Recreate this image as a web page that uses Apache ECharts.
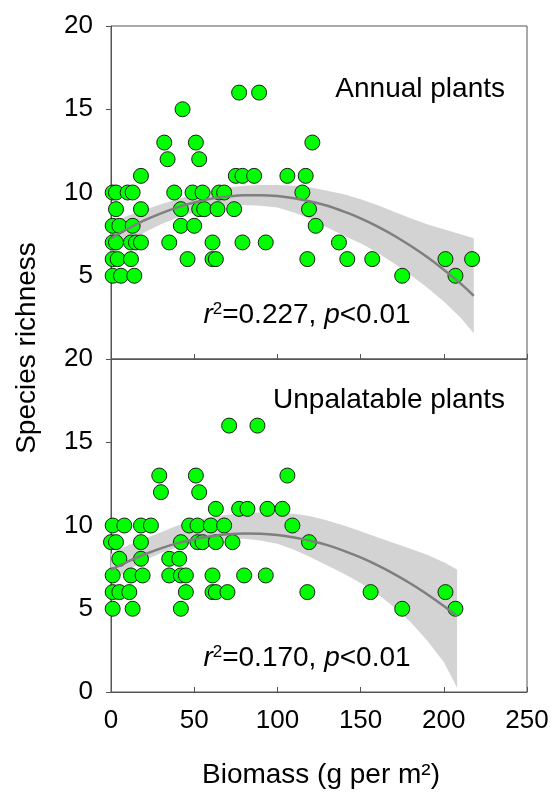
<!DOCTYPE html>
<html>
<head>
<meta charset="utf-8">
<script src="https://cdn.jsdelivr.net/npm/echarts@6/dist/echarts.min.js"></script>
<style>
html,body{margin:0;padding:0;background:#fff;}
#main{width:552px;height:794px;}
</style>
</head>
<body>
<div id="main"></div>
<script>
// annual plants (top panel)
var annualBiomass  = [77,89, 43, 32,51,121, 34,53, 18,75,79,86,106,117,
  1,3,10,13,38,49,55,65,68,115, 3,18,42,53,56,64,74,119, 1,5,13,42,50,123,
  1,3,12,15,18,35,61,79,93,137, 1,4,12,46,61,63,118,142,157,201,217, 1,6,14,175,207];
var annualRichness = [16,16, 15, 13,13,13, 12,12, 11,11,11,11,11,11,
  10,10,10,10,10,10,10,10,10,10, 9,9,9,9,9,9,9,9, 8,8,8,8,8,8,
  7,7,7,7,7,7,7,7,7,7, 6,6,6,6,6,6,6,6,6,6,6, 5,5,5,5,5];

// unpalatable plants (bottom panel)
var unpalBiomass  = [71,88, 29,51,106, 30,53, 63,77,82,94,103,
  1,8,18,24,47,52,60,68,109, 0,3,18,42,52,55,63,73,119, 5,18,35,41,
  1,12,19,35,42,45,61,80,93, 1,5,11,45,61,63,70,118,156,201, 1,13,42,175,207];
var unpalRichness = [16,16, 13,13,13, 12,12, 11,11,11,11,11,
  10,10,10,10,10,10,10,10,10, 9,9,9,9,9,9,9,9,9, 8,8,8,8,
  7,7,7,7,7,7,7,7,7, 6,6,6,6,6,6,6,6,6,6, 5,5,5,5,5];

// fitted curves and confidence bands
var annualFitX  = [0,10,20,30,40,50,60,70,80,90,100,110,120,130,140,150,160,170,180,190,200,210,218];
var annualFit   = [7.25,7.82,8.32,8.75,9.11,9.40,9.62,9.76,9.84,9.84,9.79,9.66,9.46,9.20,8.85,8.45,7.97,7.42,6.80,6.12,5.36,4.54,3.80];
var annualUpper = [8.2,8.6,8.95,9.3,9.6,9.9,10.1,10.3,10.4,10.45,10.45,10.4,10.3,10.1,9.9,9.6,9.25,8.85,8.45,8.1,7.8,7.5,7.25];
var annualLower = [6.3,7.0,7.6,8.1,8.5,8.8,9.05,9.2,9.25,9.2,9.1,8.8,8.4,7.9,7.4,6.95,6.4,5.75,5.05,4.3,3.45,2.5,1.55];

var unpalFitX  = [0,10,20,30,40,50,60,70,80,90,100,110,120,130,140,150,160,170,180,190,200,208];
var unpalFit   = [7.34,7.83,8.26,8.63,8.94,9.18,9.36,9.47,9.52,9.51,9.43,9.28,9.08,8.82,8.48,8.08,7.62,7.10,6.52,5.87,5.16,4.55];
var unpalUpper = [8.3,8.8,9.2,9.6,10.0,10.3,10.5,10.65,10.75,10.78,10.75,10.7,10.55,10.3,10.0,9.65,9.3,8.95,8.6,8.25,7.8,7.35];
var unpalLower = [6.6,7.3,7.9,8.35,8.7,8.95,9.1,9.2,9.2,9.1,8.9,8.55,8.1,7.6,7.1,6.55,5.9,5.1,4.2,3.1,1.8,0.25];

var xTicks = [0,50,100,150,200,250];

function pairs(xs, ys){
  return xs.map(function(x,i){ return [x, ys[i]]; });
}

var font = 'Liberation Sans, Arial, sans-serif';
var frame = '#555';

function xAxisOpt(idx, showLabel){
  return {
    type:'value', gridIndex:idx, min:xTicks[0], max:xTicks[xTicks.length-1], interval:50,
    axisLine:{show:true, onZero:false, lineStyle:{color:frame, width:1}},
    axisTick:{show:true, inside:true, length:5, lineStyle:{color:frame}},
    axisLabel:{show:showLabel, fontFamily:font, fontSize:26, color:'#000', margin:16},
    splitLine:{show:false}
  };
}
function yAxisOpt(idx, hideZero){
  return {
    type:'value', gridIndex:idx, min:0, max:20, interval:5,
    axisLine:{show:true, onZero:false, lineStyle:{color:frame, width:1}},
    axisTick:{show:true, inside:false, length:5, lineStyle:{color:frame}},
    axisLabel:{fontFamily:font, fontSize:26, color:'#000', margin:18,
      formatter:function(v){ return (hideZero && v===0) ? '' : v; }},
    splitLine:{show:false}
  };
}
function panelSeries(idx, fx, fit, up, lo, bx, by){
  return [
    // confidence band: polygon through the upper values, back along the lower values
    {type:'custom', coordinateSystem:'cartesian2d', xAxisIndex:idx, yAxisIndex:idx,
      data:[[fx[0], fit[0]]], silent:true, z:1,
      renderItem:function(params, api){
        var pts = [];
        for (var i = 0; i < fx.length; i++) pts.push(api.coord([fx[i], up[i]]));
        for (var j = fx.length - 1; j >= 0; j--) pts.push(api.coord([fx[j], lo[j]]));
        return {type:'polygon', shape:{points:pts}, style:{fill:'#d3d3d3'}};
      }},
    {type:'scatter', xAxisIndex:idx, yAxisIndex:idx, data:pairs(bx, by), symbolSize:15, clip:false,
      itemStyle:{color:'#00ff00', borderColor:'#1c1c1c', borderWidth:1, opacity:1}, z:3},
    {type:'line', xAxisIndex:idx, yAxisIndex:idx, data:pairs(fx, fit), smooth:0.3, symbol:'none',
      lineStyle:{color:'#7f7f7f', width:2.5}, z:4}
  ];
}

function statText(x, y, r2){
  return {
    type:'text', x:x, y:y, z:10,
    style:{
      text:'{i|r}{s|2}{n|=' + r2 + ', }{i|p}{n|<0.01}',
      textAlign:'center', textVerticalAlign:'middle', align:'center', verticalAlign:'middle',
      rich:{
        i:{fontFamily:font, fontSize:28, fontStyle:'italic', fill:'#000', color:'#000'},
        s:{fontFamily:font, fontSize:17, fill:'#000', color:'#000', verticalAlign:'top'},
        n:{fontFamily:font, fontSize:28, fill:'#000', color:'#000'}
      }
    }
  };
}
function label(x, y, txt){
  return {type:'text', x:x, y:y, z:10,
    style:{text:txt, font:'28px ' + font, fill:'#000',
      textAlign:'right', textVerticalAlign:'middle', align:'right', verticalAlign:'middle'}};
}

var myChart = echarts.init(document.getElementById('main'));
var option = {
  animation:false,
  backgroundColor:'#fff',
  grid:[
    {left:111, top:26, width:416, height:333, show:true, borderColor:frame, borderWidth:1, backgroundColor:'transparent'},
    {left:111, top:359, width:416, height:333, show:true, borderColor:frame, borderWidth:1, backgroundColor:'transparent'}
  ],
  xAxis:[xAxisOpt(0,false), xAxisOpt(1,true)],
  yAxis:[yAxisOpt(0,true), yAxisOpt(1,false)],
  series: panelSeries(0, annualFitX, annualFit, annualUpper, annualLower, annualBiomass, annualRichness)
    .concat(panelSeries(1, unpalFitX, unpalFit, unpalUpper, unpalLower, unpalBiomass, unpalRichness)),
  graphic:[
    {type:'text', x:27, y:348, rotation:Math.PI/2, z:10,
      style:{text:'Species richness', font:'28px ' + font, fill:'#000',
        textAlign:'center', textVerticalAlign:'middle', align:'center', verticalAlign:'middle'}},
    {type:'text', x:321, y:775, z:10,
      style:{text:'Biomass (g per m\u00B2)', font:'28px ' + font, fill:'#000',
        textAlign:'center', textVerticalAlign:'middle', align:'center', verticalAlign:'middle'}},
    label(505, 89, 'Annual plants'),
    label(505, 400, 'Unpalatable plants'),
    statText(307, 315, '0.227'),
    statText(307, 658, '0.170')
  ]
};
myChart.setOption(option);
</script>
</body>
</html>
